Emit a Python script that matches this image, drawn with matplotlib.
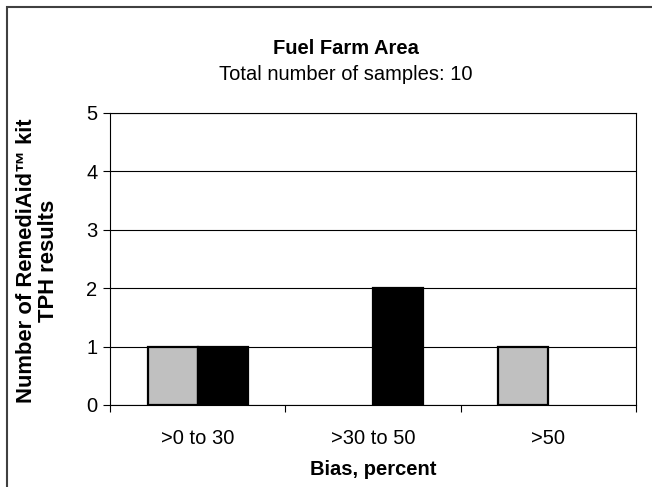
"""Bias distribution bar chart for the Fuel Farm Area samples."""

import matplotlib

matplotlib.use("Agg")
import matplotlib.pyplot as plt
import numpy as np
from matplotlib.patches import Rectangle

categories = [">0 to 30", ">30 to 50", ">50"]
gray_counts = [1, 0, 1]
black_counts = [1, 2, 0]
y_ticks = [0, 1, 2, 3, 4, 5]


def main() -> None:
    plt.rcParams["font.family"] = ["Liberation Sans", "DejaVu Sans"]

    fig = plt.figure(figsize=(6.52, 4.87), dpi=100)
    ax = fig.add_axes([0.1687, 0.1684, 0.8068, 0.5996])

    x = np.arange(len(categories))
    width = 0.285
    # zero-height bars get no outline so they stay invisible, as in the source chart
    ax.bar(x - width / 2, gray_counts, width, color="#c0c0c0", edgecolor="black",
           linewidth=[1.6 if v else 0 for v in gray_counts], zorder=3)
    ax.bar(x + width / 2, black_counts, width, color="black", edgecolor="black",
           linewidth=[1.6 if v else 0 for v in black_counts], zorder=3)

    ax.set_xlim(-0.5, len(categories) - 0.5)
    ax.set_ylim(0, 5)
    ax.set_yticks(y_ticks)
    ax.yaxis.grid(True, color="black", linewidth=0.8, zorder=0)

    ax.set_xticks(np.arange(len(categories) + 1) - 0.5)
    ax.set_xticklabels([])
    ax.set_xticks(x, minor=True)
    ax.set_xticklabels(categories, minor=True, fontsize=14.5)
    ax.tick_params(axis="x", which="minor", length=0, pad=17)
    ax.tick_params(axis="x", which="major", length=5, width=0.8, direction="out")
    ax.tick_params(axis="y", length=5, width=0.8, labelsize=14.5, pad=4)

    for spine in ax.spines.values():
        spine.set_linewidth(0.8)
        spine.set_color("black")

    ax.set_xlabel("Bias, percent", fontsize=14.5, fontweight="bold", va="center")
    ax.xaxis.set_label_coords(0.5, -0.2226)
    ax.set_ylabel("Number of RemediAid\u2122 kit\nTPH results", fontsize=15.8, fontweight="bold",
                  va="center", linespacing=1.1)
    ax.yaxis.set_label_coords(-0.138, 0.495)

    fig.text(0.531, 0.901, "Fuel Farm Area", ha="center", va="center", fontsize=14.5, fontweight="bold")
    fig.text(0.531, 0.846, "Total number of samples: 10", ha="center", va="center", fontsize=14.5)

    fig.patches.append(
        Rectangle((0.011, -0.02), 1.0, 1.005, transform=fig.transFigure, fill=False,
                  edgecolor="#404040", linewidth=1.5)
    )

    fig.savefig("out.png", dpi=100)
    plt.close(fig)


if __name__ == "__main__":
    main()
